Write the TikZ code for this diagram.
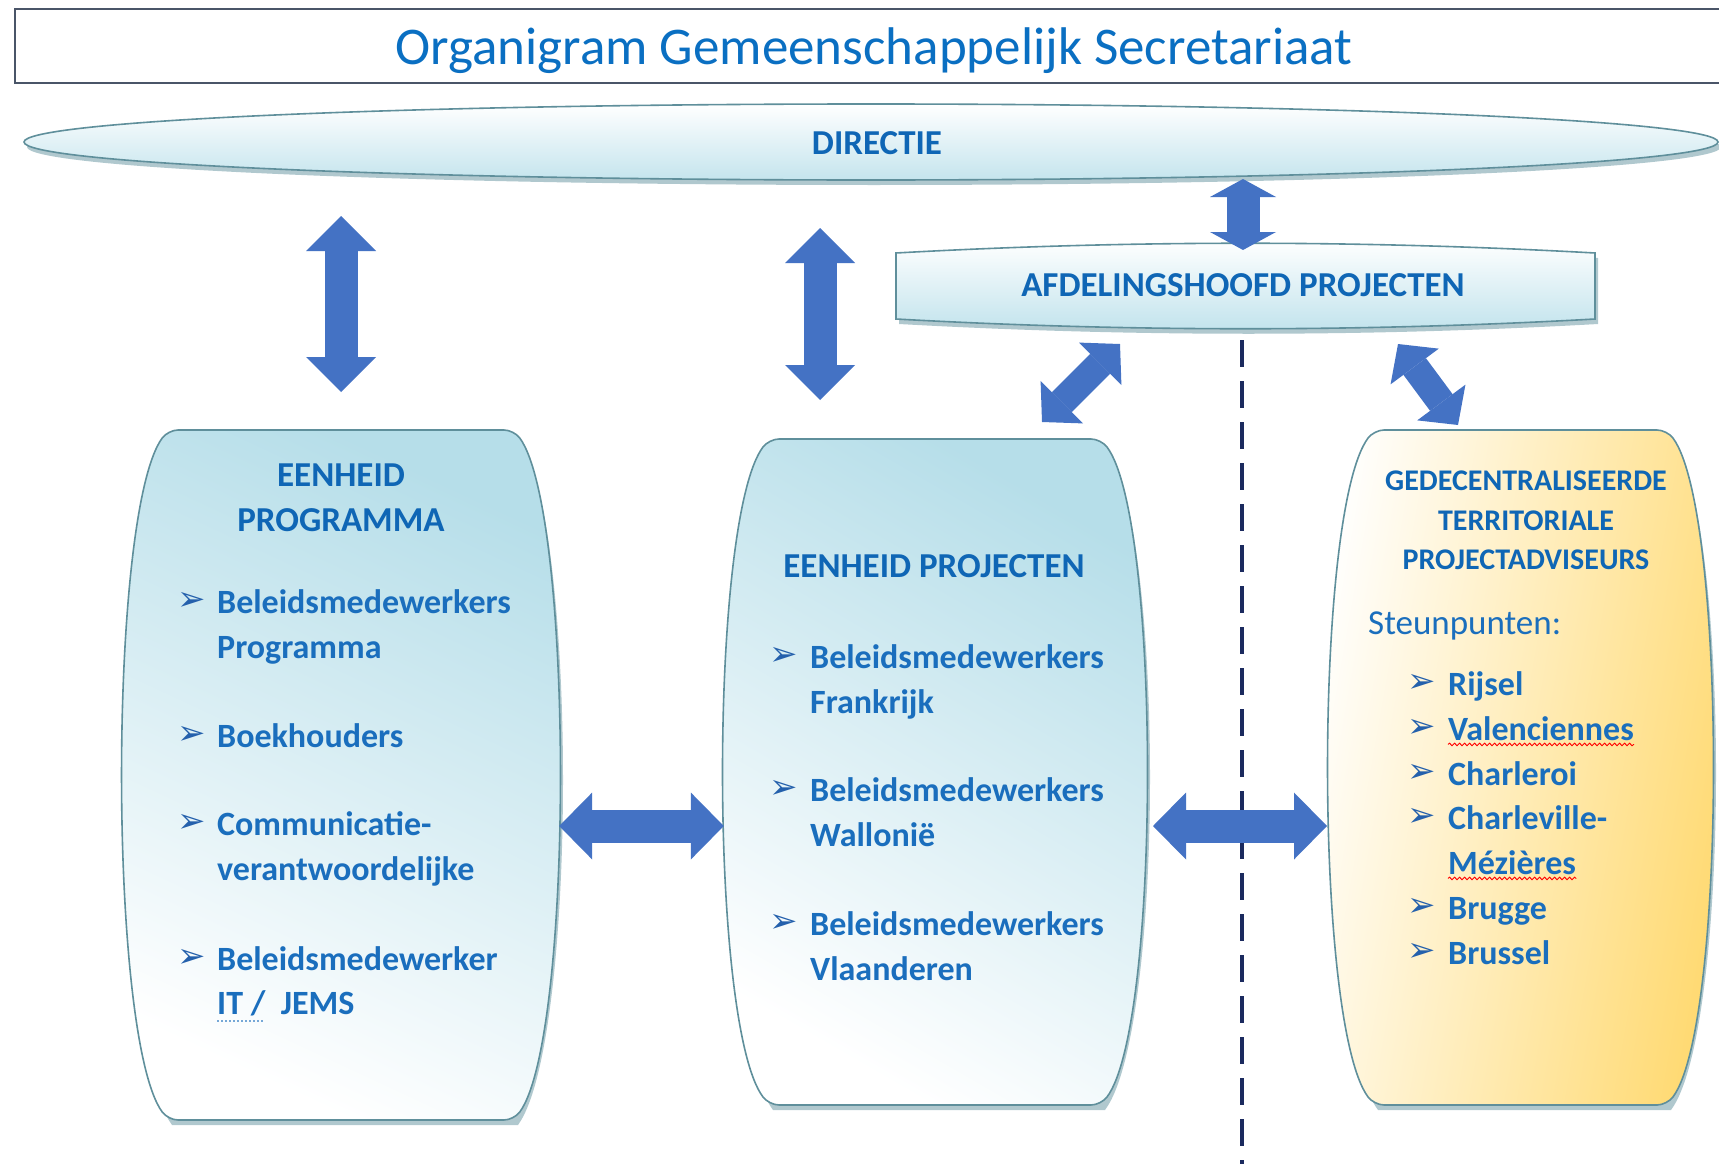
\documentclass[tikz,border=0pt]{standalone}
\usepackage{fontspec}
\setmainfont{Carlito}
\newfontfamily\dv{DejaVu Sans}
\usetikzlibrary{arrows.meta,decorations.pathmorphing}
\definecolor{txt}{HTML}{1A6EBD}
\definecolor{hd}{HTML}{0F66B5}
\definecolor{ttl}{HTML}{0A6FC2}
\definecolor{arr}{HTML}{4472C4}
\definecolor{edge}{HTML}{5F8F9B}
\definecolor{shad}{HTML}{8FB2BA}
\definecolor{lblue}{HTML}{B6DEE9}
\definecolor{lyel}{HTML}{FFD970}
\definecolor{dashc}{HTML}{1B2A5E}
\definecolor{bulc}{HTML}{2460AC}
\definecolor{frame}{HTML}{4A5568}
\begin{document}
\begin{tikzpicture}[x=1pt,y=-1pt,
  itemtxt/.style={anchor=base west, text=txt, font=\fontsize{34}{45}\selectfont\bfseries, inner sep=0pt},
  headtxt/.style={anchor=base, text=hd, font=\fontsize{35}{45}\selectfont\bfseries, inner sep=0pt},
  smallhead/.style={anchor=base, text=hd, font=\fontsize{30}{40}\selectfont\bfseries, inner sep=0pt},
  bul/.style={text=bulc, font=\dv\fontsize{34}{36}\selectfont, inner sep=0pt, anchor=center},
  barrow/.style={draw=arr, line width=33pt, {Triangle[length=35pt,width=70pt,line width=0pt]}-{Triangle[length=35pt,width=70pt,line width=0pt]}},
  harrow/.style={draw=arr, line width=33pt, {Triangle[length=33pt,width=67pt,line width=0pt]}-{Triangle[length=33pt,width=67pt,line width=0pt]}},
  sarrow/.style={draw=arr, line width=33pt, {Triangle[length=18pt,width=66pt,line width=0pt]}-{Triangle[length=18pt,width=66pt,line width=0pt]}},
  darrow/.style={draw=arr, line width=28pt, {Triangle[length=28pt,width=60pt,line width=0pt]}-{Triangle[length=28pt,width=60pt,line width=0pt]}},
  boxedge/.style={draw=edge, line width=1.6pt},
  shadow/.style={fill=shad, opacity=0.7},
  wavy/.style={draw=red, line width=0.9pt, decorate, decoration={snake, amplitude=1.3pt, segment length=5pt}}
]
\useasboundingbox (0,0) rectangle (1719,1164);
\fill[white] (0,0) rectangle (1719,1164);

% title
\draw[draw=frame, line width=1.6pt] (15,9) rectangle (1740,83);
\node[anchor=base, text=ttl, font=\fontsize{53}{60}\selectfont, inner sep=0pt] (title) at (874,65) {Organigram Gemeenschappelijk Secretariaat};

% DIRECTIE ellipse
\fill[shadow] (874,147) ellipse [x radius=847pt, y radius=38pt];
\path[top color=white, bottom color=lblue!80, boxedge] (871,142) ellipse [x radius=847pt, y radius=38pt];
\node[headtxt] (dir) at (877,154) {DIRECTIE};

% AFDELINGSHOOFD box
\fill[shadow, shift={(3,5)}] (896,253) .. controls (1129,240) and (1362,240) .. (1595,253) -- (1595,319) .. controls (1362,332) and (1129,332) .. (896,319) -- cycle;
\path[top color=white, bottom color=lblue!85, boxedge] (896,253) .. controls (1129,240) and (1362,240) .. (1595,253) -- (1595,319) .. controls (1362,332) and (1129,332) .. (896,319) -- cycle;
\node[headtxt] (afd) at (1243,296) {AFDELINGSHOOFD PROJECTEN};

% dashed separator
\coordinate (dtop) at (1242,340);
\coordinate (dbot) at (1242,1164);
\draw[draw=dashc, line width=4.5pt, dash pattern=on 27pt off 14pt] (dtop) -- (dbot);

% left barrel
\fill[shadow, shift={(4,5)}] (341,430) -- (514,430) .. controls (574,513) and (574,1037) .. (514,1120) -- (168,1120) .. controls (108,1037) and (108,513) .. (168,430) -- cycle;
\path[top color=lblue, bottom color=white, shading angle=-25, boxedge, rounded corners=10pt] (341,430) -- (514,430) .. controls (574,513) and (574,1037) .. (514,1120) -- (168,1120) .. controls (108,1037) and (108,513) .. (168,430) -- cycle;
\node[minimum width=436pt, minimum height=690pt, inner sep=0pt] (prog) at (341,775) {};

% middle barrel
\fill[shadow, shift={(4,5)}] (935,439) -- (1101,439) .. controls (1161,519) and (1161,1025) .. (1101,1105) -- (769,1105) .. controls (709,1025) and (709,519) .. (769,439) -- cycle;
\path[top color=lblue, bottom color=white, shading angle=-30, boxedge, rounded corners=10pt] (935,439) -- (1101,439) .. controls (1161,519) and (1161,1025) .. (1101,1105) -- (769,1105) .. controls (709,1025) and (709,519) .. (769,439) -- cycle;
\node[minimum width=422pt, minimum height=666pt, inner sep=0pt] (proj) at (935,772) {};

% right barrel
\fill[shadow, shift={(4,5)}] (1520,430) -- (1667,430) .. controls (1727,511) and (1727,1024) .. (1667,1105) -- (1374,1105) .. controls (1314,1024) and (1314,511) .. (1374,430) -- cycle;
\path[top color=lyel, bottom color=white, shading angle=-100, boxedge, rounded corners=10pt] (1520,430) -- (1667,430) .. controls (1727,511) and (1727,1024) .. (1667,1105) -- (1374,1105) .. controls (1314,1024) and (1314,511) .. (1374,430) -- cycle;
\node[minimum width=383pt, minimum height=675pt, inner sep=0pt] (terr) at (1520,767) {};

% arrows
\coordinate (a1s) at (341,216); \coordinate (a1e) at (341,392);
\draw[barrow] (a1s) -- (a1e);
\coordinate (a2s) at (820,228); \coordinate (a2e) at (820,400);
\draw[barrow] (a2s) -- (a2e);
\coordinate (a3s) at (1243,179); \coordinate (a3e) at (1243,250);
\draw[sarrow] (a3s) -- (a3e);
\coordinate (a4s) at (1120,344); \coordinate (a4e) at (1042,422);
\draw[darrow] (a4s) -- (a4e);
\coordinate (a5s) at (1398,344); \coordinate (a5e) at (1458,425);
\draw[darrow] (a5s) -- (a5e);
\draw[harrow] (prog.east |- 0,826) -- (proj.west |- 0,826);
\coordinate (a7s) at (1153,826); \coordinate (a7e) at (1327,826);
\draw[harrow] (a7s) -- (a7e);

% left box text
\node[headtxt] (p1) at (341,486) {EENHEID};
\node[headtxt] (p2) at (341,531) {PROGRAMMA};
\node[bul] (pb1) at (192,601) {➢};
\node[itemtxt] (pl1) at (217,613) {Beleidsmedewerkers};
\node[itemtxt] (pl2) at (217,658) {Programma};
\node[bul] (pb2) at (192,735) {➢};
\node[itemtxt] (pl3) at (217,747) {Boekhouders};
\node[bul] (pb3) at (192,823) {➢};
\node[itemtxt] (pl4) at (217,835) {Communicatie-};
\node[itemtxt] (pl5) at (217,880) {verantwoordelijke};
\node[bul] (pb4) at (192,958) {➢};
\node[itemtxt] (pl6) at (217,970) {Beleidsmedewerker};
\node[itemtxt] (pl7) at (217,1014) {IT /\ \ JEMS};
\coordinate (u1) at (217,1021); \coordinate (u2) at (264,1021);
\draw[draw=txt!60, line width=1.2pt, dash pattern=on 2pt off 2pt] (u1) -- (u2);

% middle box text
\node[headtxt] (m1) at (934,577) {EENHEID PROJECTEN};
\node[bul] (mb1) at (784,656) {➢};
\node[itemtxt] (ml1) at (810,668) {Beleidsmedewerkers};
\node[itemtxt] (ml2) at (810,713) {Frankrijk};
\node[bul] (mb2) at (784,789) {➢};
\node[itemtxt] (ml3) at (810,801) {Beleidsmedewerkers};
\node[itemtxt] (ml4) at (810,846) {Wallonië};
\node[bul] (mb3) at (784,923) {➢};
\node[itemtxt] (ml5) at (810,935) {Beleidsmedewerkers};
\node[itemtxt] (ml6) at (810,980) {Vlaanderen};

% right box text
\node[smallhead] (r1) at (1526,490) {GEDECENTRALISEERDE};
\node[smallhead] (r2) at (1526,530) {TERRITORIALE};
\node[smallhead] (r3) at (1526,569) {PROJECTADVISEURS};
\node[anchor=base west, text=txt, font=\fontsize{35}{45}\selectfont, inner sep=0pt] (st) at (1368,634) {Steunpunten:};
\node[bul] (rb1) at (1422,683) {➢};
\node[itemtxt] (rl1) at (1448,695) {Rijsel};
\node[bul] (rb2) at (1422,728) {➢};
\node[itemtxt] (rl2) at (1448,740) {Valenciennes};
\node[bul] (rb3) at (1422,773) {➢};
\node[itemtxt] (rl3) at (1448,785) {Charleroi};
\node[bul] (rb4) at (1422,817) {➢};
\node[itemtxt] (rl4) at (1448,829) {Charleville-};
\node[itemtxt] (rl5) at (1448,874) {Mézières};
\node[bul] (rb5) at (1422,907) {➢};
\node[itemtxt] (rl6) at (1448,919) {Brugge};
\node[bul] (rb6) at (1422,952) {➢};
\node[itemtxt] (rl7) at (1448,964) {Brussel};
\draw[wavy] ([yshift=-4pt]rl2.south west) -- ([yshift=-4pt]rl2.south east);
\draw[wavy] ([yshift=-4pt]rl5.south west) -- ([yshift=-4pt]rl5.south east);
\end{tikzpicture}
\end{document}
